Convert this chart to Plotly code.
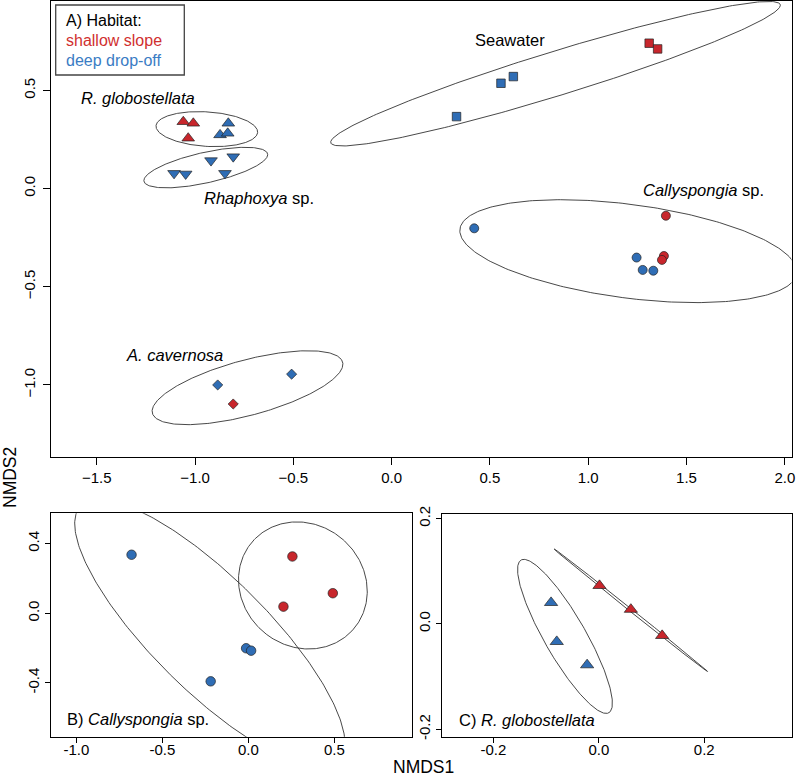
import numpy as np
import plotly.graph_objects as go

RED = "#C8262C"
BLUE = "#2F6DB5"
EDGE = "#222222"
FONT = "Liberation Sans, Arial, Helvetica, sans-serif"

# ---------------- Panel A: all samples ----------------
rglob_x = [-1.060, -1.009, -1.035, -0.831, -0.873, -0.834]
rglob_y = [0.341, 0.333, 0.257, 0.333, 0.274, 0.282]
rglob_hab = ["shallow", "shallow", "shallow", "deep", "deep", "deep"]

rhaph_x = [-1.107, -1.048, -0.919, -0.806, -0.848]
rhaph_y = [0.078, 0.075, 0.143, 0.163, 0.078]
rhaph_hab = ["deep", "deep", "deep", "deep", "deep"]

sea_x = [0.330, 0.556, 0.619, 1.310, 1.353]
sea_y = [0.367, 0.537, 0.571, 0.741, 0.712]
sea_hab = ["deep", "deep", "deep", "shallow", "shallow"]

cally_x = [0.420, 1.246, 1.277, 1.331, 1.395, 1.385, 1.375]
cally_y = [-0.202, -0.351, -0.414, -0.418, -0.138, -0.343, -0.363]
cally_hab = ["deep", "deep", "deep", "deep", "shallow", "shallow", "shallow"]

acav_x = [-0.885, -0.509, -0.806]
acav_y = [-1.000, -0.945, -1.097]
acav_hab = ["deep", "deep", "shallow"]

# ---------------- Panel B: Callyspongia sp. ----------------
b_x = [-0.679, -0.013, 0.016, -0.219, 0.256, 0.491, 0.204]
b_y = [0.336, -0.201, -0.215, -0.391, 0.326, 0.115, 0.038]
b_hab = ["deep", "deep", "deep", "deep", "shallow", "shallow", "shallow"]

# ---------------- Panel C: R. globostellata ----------------
c_x = [-0.0906, -0.0798, -0.0222, 0.0013, 0.0608, 0.1202]
c_y = [0.0404, -0.0336, -0.0778, 0.0727, 0.0275, -0.0222]
c_hab = ["deep", "deep", "deep", "shallow", "shallow", "shallow"]

# tick labels
a_xticks = [-1.5, -1.0, -0.5, 0.0, 0.5, 1.0, 1.5, 2.0]
a_xtext = ["\u22121.5", "\u22121.0", "\u22120.5", "0.0", "0.5", "1.0", "1.5", "2.0"]
a_yticks = [-1.0, -0.5, 0.0, 0.5]
a_ytext = ["\u22121.0", "\u22120.5", "0.0", "0.5"]
b_xticks = [-1.0, -0.5, 0.0, 0.5]
b_xtext = ["-1.0", "-0.5", "0.0", "0.5"]
b_yticks = [-0.4, 0.0, 0.4]
b_ytext = ["-0.4", "0.0", "0.4"]
c_xticks = [-0.2, 0.0, 0.2]
c_xtext = ["-0.2", "0.0", "0.2"]
c_yticks = [-0.2, 0.0, 0.2]
c_ytext = ["-0.2", "0.0", "0.2"]

COL = {"shallow": RED, "deep": BLUE}


def sd_ellipse(x, y, conf=0.95, n=300):
    """Standard-deviation ellipse (as vegan::ordiellipse kind='sd', conf=0.95)."""
    x = np.asarray(x, float)
    y = np.asarray(y, float)
    cov = np.cov(np.vstack([x, y]))
    scale = np.sqrt(-2.0 * np.log(1.0 - conf))  # sqrt(qchisq(conf, 2))
    vals, vecs = np.linalg.eigh(cov)
    t = np.linspace(0, 2 * np.pi, n)
    circ = np.vstack([np.cos(t), np.sin(t)])
    pts = vecs @ (np.sqrt(np.maximum(vals, 0))[:, None] * circ) * scale
    return x.mean() + pts[0], y.mean() + pts[1]


fig = go.Figure()


def add_ellipse(x, y, xa, ya):
    ex, ey = sd_ellipse(x, y)
    fig.add_trace(go.Scatter(x=ex, y=ey, mode="lines", xaxis=xa, yaxis=ya,
                             line=dict(color="#333333", width=0.9),
                             hoverinfo="skip", showlegend=False))


def add_points(x, y, hab, symbol, size, xa, ya):
    fig.add_trace(go.Scatter(
        x=x, y=y, mode="markers", xaxis=xa, yaxis=ya, showlegend=False,
        marker=dict(symbol=symbol, size=size, color=[COL[h] for h in hab],
                    line=dict(color=EDGE, width=0.7))))


# Panel A
groups_a = [
    (rglob_x, rglob_y, rglob_hab, "triangle-up", 11),
    (rhaph_x, rhaph_y, rhaph_hab, "triangle-down", 11),
    (sea_x, sea_y, sea_hab, "square", 8.5),
    (cally_x, cally_y, cally_hab, "circle", 9),
    (acav_x, acav_y, acav_hab, "diamond", 7.8),
]
for gx, gy, gh, sym, sz in groups_a:
    add_ellipse(gx, gy, "x", "y")
for gx, gy, gh, sym, sz in groups_a:
    add_points(gx, gy, gh, sym, sz, "x", "y")

# Panel B
for h in ["deep", "shallow"]:
    idx = [i for i, v in enumerate(b_hab) if v == h]
    add_ellipse([b_x[i] for i in idx], [b_y[i] for i in idx], "x2", "y2")
add_points(b_x, b_y, b_hab, "circle", 9.5, "x2", "y2")

# Panel C
for h in ["deep", "shallow"]:
    idx = [i for i, v in enumerate(c_hab) if v == h]
    add_ellipse([c_x[i] for i in idx], [c_y[i] for i in idx], "x3", "y3")
add_points(c_x, c_y, c_hab, "triangle-up", 11.5, "x3", "y3")

W, H = 797, 778


def ax(domain, rng, tv, tt, angle=0, ticklen=7, standoff=0):
    return dict(domain=domain, range=rng, tickvals=tv, ticktext=tt,
                tickangle=angle, showgrid=False, zeroline=False,
                showline=True, mirror=True, linecolor="black", linewidth=1,
                ticks="outside", ticklen=ticklen, tickwidth=1, tickcolor="black",
                ticklabelstandoff=standoff,
                tickfont=dict(family=FONT, size=15, color="black"),
                automargin=False, fixedrange=True)


layout = dict(
    width=W, height=H, margin=dict(l=0, r=0, t=0, b=0),
    paper_bgcolor="white", plot_bgcolor="white", template="none",
    showlegend=False,
    xaxis=ax([51 / W, 791.5 / W], [-1.733, 2.034], a_xticks, a_xtext, 0, 7, 0),
    yaxis=ax([1 - 457 / H, 1 - 1 / H], [-1.367, 0.956], a_yticks, a_ytext, -90, 7, 2),
    xaxis2=ax([50.7 / W, 412.3 / W], [-1.149, 0.953], b_xticks, b_xtext, 0, 5, -6),
    yaxis2=ax([1 - 736.7 / H, 1 - 513.3 / H], [-0.709, 0.574], b_yticks, b_ytext, -90, 5, 0),
    xaxis3=ax([442.3 / W, 791.7 / W], [-0.297, 0.366], c_xticks, c_xtext, 0, 5, -6),
    yaxis3=ax([1 - 736.7 / H, 1 - 514.3 / H], [-0.214, 0.208], c_yticks, c_ytext, -90, 5, 0),
)
layout["xaxis2"]["anchor"] = "y2"
layout["yaxis2"]["anchor"] = "x2"
layout["xaxis3"]["anchor"] = "y3"
layout["yaxis3"]["anchor"] = "x3"
fig.update_layout(**layout)

lab = dict(family=FONT, size=16.5, color="black")
ann = [
    dict(x=-1.289, y=0.46, xref="x", yref="y", text="<i>R. globostellata</i>"),
    dict(x=-0.676, y=-0.049, xref="x", yref="y", text="<i>Rhaphoxya</i> sp."),
    dict(x=0.600, y=0.757, xref="x", yref="y", text="Seawater"),
    dict(x=1.585, y=-0.007, xref="x", yref="y", text="<i>Callyspongia</i> sp."),
    dict(x=-1.106, y=-0.847, xref="x", yref="y", text="<i>A. cavernosa</i>"),
]
for a in ann:
    fig.add_annotation(showarrow=False, font=lab, xanchor="center", yanchor="middle", **a)

# panel labels
fig.add_annotation(x=65 / W, y=1 - 718.5 / H, xref="paper", yref="paper",
                   text="B) <i>Callyspongia</i> sp.", showarrow=False,
                   xanchor="left", yanchor="middle", font=lab)
fig.add_annotation(x=456.5 / W, y=1 - 719.5 / H, xref="paper", yref="paper",
                   text="C) <i>R. globostellata</i>", showarrow=False,
                   xanchor="left", yanchor="middle", font=lab)

# legend box
fig.add_shape(type="rect", xref="paper", yref="paper",
              x0=55.7 / W, x1=184.3 / W, y0=1 - 75 / H, y1=1 - 5 / H,
              line=dict(color="#444444", width=1.3), fillcolor="white", layer="above")
leg = [("A) Habitat:", "black", 20.7), ("shallow slope", "#D0302F", 40.5),
       ("deep drop-off", "#3A7CC4", 60.5)]
for txt, col, ypx in leg:
    fig.add_annotation(x=64 / W, y=1 - ypx / H, xref="paper", yref="paper",
                       text=txt, showarrow=False, xanchor="left", yanchor="middle",
                       font=dict(family=FONT, size=16, color=col))

# axis titles
fig.add_annotation(x=10 / W, y=1 - 478 / H, xref="paper", yref="paper",
                   text="NMDS2", textangle=-90, showarrow=False,
                   xanchor="center", yanchor="middle",
                   font=dict(family=FONT, size=17.5, color="black"))
fig.add_annotation(x=424 / W, y=0, xref="paper", yref="paper",
                   text="NMDS1", showarrow=False, xanchor="center", yanchor="bottom",
                   borderpad=0, font=dict(family=FONT, size=17.5, color="black"))

fig.write_html(
    "out.html",
    config={"displayModeBar": False},
    post_script="document.body.style.margin='0';document.body.style.padding='0';"
                "document.body.style.overflow='hidden';",
)
